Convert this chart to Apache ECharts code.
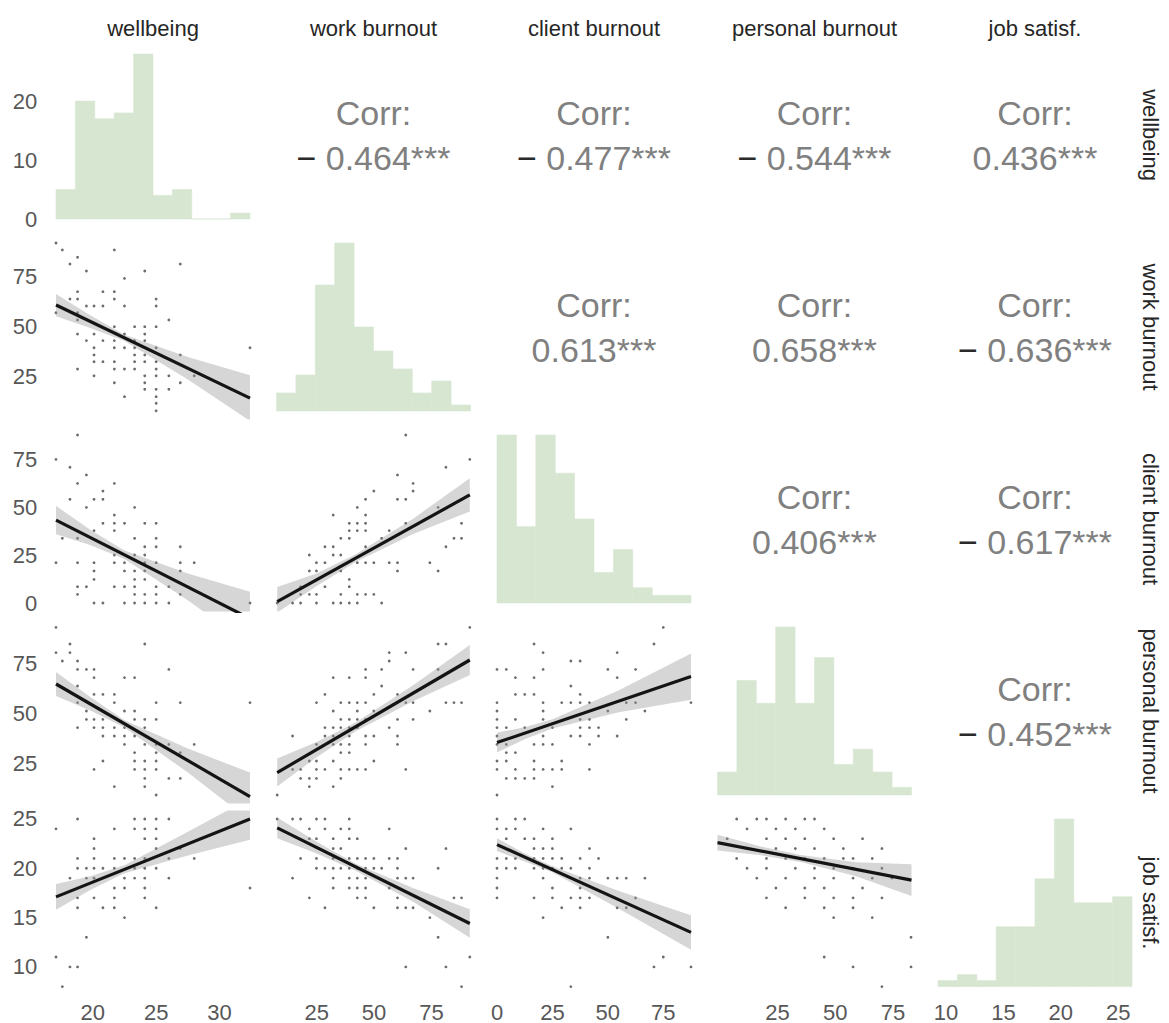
<!DOCTYPE html>
<html><head><meta charset="utf-8">
<script src="https://cdn.jsdelivr.net/npm/echarts@6/dist/echarts.min.js"></script>
<style>html,body{margin:0;padding:0;background:#fff}#c{width:1169px;height:1023px}</style>
</head><body><div id="c"></div>
<script>
// ---------- data ----------
const varNames = ['wellbeing', 'work burnout', 'client burnout', 'personal burnout', 'job satisf.'];
// x range of each column, y range of each row
const colLimits = [[17.1, 32.4], [7.5, 92], [0, 87.5], [-1, 83], [9.3, 26.2]];
const rowLimits = [[17.1, 32.4], [7.5, 92], [0, 87.5], [9, 93], [8, 25]];
const xTickLabels = [[20, 25, 30], [25, 50, 75], [0, 25, 50, 75], [25, 50, 75], [10, 15, 20, 25]];
const yTickLabels = [[0, 10, 20], [25, 50, 75], [0, 25, 50, 75], [25, 50, 75], [10, 15, 20, 25]];

const histWellbeing = [5, 20, 17, 18, 28, 4, 5, 0, 0, 1];
const histWork = [3, 6, 21, 28, 14, 10, 7, 3, 5, 1];
const histClient = [22, 10, 22, 17, 11, 4, 7, 2, 1, 1];
const histPersonal = [3, 15, 12, 22, 12, 18, 4, 6, 3, 1];
const histJob = [1, 2, 1, 10, 10, 18, 28, 14, 14, 15];
const histTop = [28.5, 28, 22, 22, 28];

// correlations (row var ~ col var), upper triangle in reading order
const corrValues = [-0.464, -0.477, -0.544, 0.436, 0.613, 0.658, -0.636, 0.406, -0.617, -0.452];

const scatterWellbeingWork = [[17.1,92],[17.6,88.5],[18.8,84.8],[21.7,88.5],[18.2,81.4],[26.9,81.4],[19.5,77.9],[24.1,77.9],[22.5,74.2],
[18.8,67.5],[20.8,67.5],[21.7,67.5],[18.2,63.8],[18.8,63.8],[21.7,63.8],[25.0,63.8],
[19.5,60.3],[20.1,60.3],[20.8,60.3],[22.5,60.3],[25.0,60.3],[17.1,56.9],[18.8,56.9],[18.8,53.3],[26.0,53.3],
[21.7,49.9],[23.3,49.9],[24.1,49.9],[25.0,49.9],[18.8,46.2],[20.1,46.2],[22.5,46.2],[24.1,46.2],
[19.5,42.9],[20.8,42.9],[21.7,42.9],[23.3,42.9],[24.1,42.9],[20.1,39.3],[21.7,39.3],[22.5,39.3],[23.3,39.3],[25.0,39.3],[32.4,39.3],
[20.1,35.7],[23.3,35.7],[24.1,35.7],[26.9,35.7],[20.1,32.3],[20.8,32.3],[21.7,32.3],[23.3,32.3],[24.1,32.3],[25.0,32.3],
[18.8,28.6],[21.7,28.6],[22.5,28.6],[23.3,28.6],[25.0,28.6],[20.1,25.2],[24.1,25.2],[25.0,25.2],[26.0,25.2],[28.0,25.2],
[21.7,21.7],[24.1,21.7],[26.9,21.7],[24.1,18.4],[25.0,18.4],[26.0,18.4],[22.5,14.7],[25.0,14.7],[25.0,11.4],[25.0,7.6]];
const scatterWellbeingClient = [[18.8,87.5],[17.1,74.8],[18.2,70.7],[19.5,66.7],[18.8,62.3],[21.7,62.3],[20.8,58.3],
[18.2,54.0],[20.1,54.0],[20.8,54.0],[19.5,49.8],[23.3,49.8],[21.7,45.8],[20.8,41.5],[21.7,41.5],[22.5,41.5],[24.1,41.5],[25.0,41.5],
[20.1,37.7],[21.7,37.7],[17.6,33.7],[18.8,33.7],[23.3,33.7],[25.0,33.7],[24.1,29.3],[25.0,29.3],[26.9,29.3],
[21.7,25.0],[23.3,25.0],[24.1,25.0],[17.1,21.0],[18.8,21.0],[20.1,21.0],[21.7,21.0],[22.5,21.0],[24.1,21.0],[25.0,21.0],[26.9,21.0],[28.0,21.0],
[20.1,16.7],[22.5,16.7],[23.3,16.7],[24.1,16.7],[26.9,16.7],[20.1,12.3],[23.3,12.3],[24.1,12.3],
[18.8,8.5],[19.5,8.5],[21.7,8.5],[22.5,8.5],[23.3,8.5],[25.0,8.5],[26.0,8.5],[18.8,4.5],[23.3,4.5],[24.1,4.5],[25.0,4.5],[26.9,4.5],
[20.1,0],[20.8,0],[22.5,0],[23.3,0],[24.1,0],[25.0,0],[26.0,0],[32.4,0]];
const scatterWellbeingPersonal = [[17.1,92.8],[18.2,84.5],[24.1,84.5],[17.1,80.2],[18.2,80.2],[17.6,76.0],[18.8,76.0],
[18.8,71.8],[19.5,71.8],[20.1,71.8],[26.0,71.8],[20.1,67.7],[22.5,67.7],[23.3,67.7],[18.8,63.5],[20.1,59.3],[20.8,59.3],[21.7,59.3],
[18.8,55.2],[21.7,55.2],[25.0,55.2],[26.9,55.2],[32.4,55.2],[19.5,51.0],[22.5,51.0],[23.3,51.0],
[19.5,46.8],[20.1,46.8],[20.8,46.8],[23.3,46.8],[24.1,46.8],[25.0,46.8],[18.8,42.7],[20.1,42.7],[20.8,42.7],[21.7,42.7],[22.5,42.7],[24.1,42.7],
[20.8,38.5],[21.7,38.5],[22.5,38.5],[23.3,38.5],[22.5,34.3],[24.1,34.3],[25.0,34.3],[26.0,34.3],[28.0,34.3],
[23.3,30.2],[25.0,30.2],[26.9,30.2],[20.8,26.0],[23.3,26.0],[24.1,26.0],[25.0,26.0],[20.1,21.8],[23.3,21.8],[24.1,21.8],[25.0,21.8],
[24.1,17.3],[26.0,17.3],[26.9,17.3],[21.7,13.2],[24.1,13.2],[25.0,9.0]];
const scatterWellbeingJob = [[18.8,25],[23.3,25],[24.1,25],[25.0,25],[26.0,25],[17.1,24],[21.7,24],[23.3,24],[24.1,24],[25.0,24],
[20.1,23],[24.1,23],[25.0,23],[20.1,22],[25.0,22],[26.9,22],
[18.8,21],[20.1,21],[21.7,21],[22.5,21],[23.3,21],[24.1,21],[26.0,21],[28.0,21],
[18.8,20],[19.5,20],[20.1,20],[20.8,20],[21.7,20],[23.3,20],[24.1,20],[25.0,20],
[18.2,19],[19.5,19],[20.1,19],[22.5,19],[23.3,19],[24.1,19],[26.0,19],[21.7,18],[22.5,18],[24.1,18],[32.4,18],
[18.8,17],[20.1,17],[21.7,17],[24.1,17],[18.8,16],[20.8,16],[21.7,16],[25.0,16],
[22.5,15],[19.5,13],[17.1,11],[18.2,10],[18.8,10],[17.6,8]];
const scatterWorkClient = [[63.8,87.5],[91.7,74.8],[81.3,70.7],[60.2,66.7],[67.0,62.3],[49.9,58.3],[67.0,58.3],
[46.3,54.0],[60.2,54.0],[63.8,54.0],[42.7,49.8],[77.9,49.8],[32.2,45.8],[46.3,45.8],
[39.2,41.5],[42.7,41.5],[46.3,41.5],[63.8,41.5],[88.1,41.5],[39.2,37.7],[42.7,37.7],[46.3,37.7],[56.6,37.7],
[35.5,33.7],[39.2,33.7],[53.3,33.7],[84.8,33.7],[88.1,33.7],[28.6,29.3],[32.2,29.3],[46.3,29.3],[81.3,29.3],
[21.8,25.0],[32.2,25.0],[35.5,25.0],[24.9,21.0],[28.6,21.0],[42.7,21.0],[46.3,21.0],[49.9,21.0],[56.6,21.0],[60.2,21.0],[74.3,21.0],
[21.8,16.7],[24.9,16.7],[35.5,16.7],[60.2,16.7],[77.9,16.7],[39.2,12.3],[18.0,8.5],[28.6,8.5],[39.2,8.5],
[18.0,4.5],[21.8,4.5],[24.9,4.5],[35.5,4.5],[42.7,4.5],[46.3,4.5],[49.9,4.5],
[7.8,0],[14.5,0],[18.0,0],[24.9,0],[32.2,0],[35.5,0],[39.2,0],[42.7,0],[53.3,0]];
const scatterWorkPersonal = [[91.7,92.8],[77.9,84.5],[81.3,84.5],[56.6,80.2],[63.8,80.2],[56.6,76.0],
[46.3,71.8],[53.3,71.8],[67.0,71.8],[77.9,71.8],[32.2,67.7],[39.2,67.7],[46.3,67.7],[53.3,63.5],[28.6,59.3],[49.9,59.3],[60.2,59.3],
[24.9,55.2],[35.5,55.2],[39.2,55.2],[42.7,55.2],[46.3,55.2],[63.8,55.2],[67.0,55.2],[81.3,55.2],[84.8,55.2],[88.1,55.2],
[32.2,51.0],[42.7,51.0],[49.9,51.0],[74.3,51.0],[35.5,46.8],[39.2,46.8],[42.7,46.8],[46.3,46.8],[60.2,46.8],[67.0,46.8],
[28.6,42.7],[32.2,42.7],[35.5,42.7],[39.2,42.7],[42.7,42.7],[56.6,42.7],
[14.5,38.5],[28.6,38.5],[32.2,38.5],[39.2,38.5],[46.3,38.5],[49.9,38.5],[60.2,38.5],
[24.9,34.3],[32.2,34.3],[35.5,34.3],[39.2,34.3],[46.3,34.3],[60.2,34.3],[35.5,30.2],[39.2,30.2],
[21.8,26.0],[24.9,26.0],[32.2,26.0],[49.9,26.0],
[14.5,21.8],[18.0,21.8],[24.9,21.8],[28.6,21.8],[35.5,21.8],[39.2,21.8],[42.7,21.8],[46.3,21.8],[63.8,21.8],
[18.0,17.3],[21.8,17.3],[24.9,17.3],[35.5,17.3],[21.8,13.2],[32.2,13.2],[7.8,9.0]];
const scatterWorkJob = [[7.8,25],[14.5,25],[18.0,25],[24.9,25],[28.6,25],[39.2,25],[21.8,24],[28.6,24],[35.5,24],[39.2,24],[56.6,24],
[21.8,23],[24.9,23],[32.2,23],[39.2,23],[42.7,23],[32.2,22],[35.5,22],[63.8,22],[81.3,22],
[18.0,21],[24.9,21],[32.2,21],[39.2,21],[42.7,21],[46.3,21],[49.9,21],[56.6,21],[60.2,21],
[24.9,20],[28.6,20],[32.2,20],[35.5,20],[39.2,20],[42.7,20],[46.3,20],[49.9,20],[53.3,20],[60.2,20],[77.9,20],
[14.5,19],[32.2,19],[39.2,19],[42.7,19],[46.3,19],[60.2,19],[63.8,19],[67.0,19],[32.2,18],[39.2,18],[42.7,18],[46.3,18],[56.6,18],
[21.8,17],[42.7,17],[46.3,17],[60.2,17],[84.8,17],[88.1,17],[28.6,16],[49.9,16],[60.2,16],[63.8,16],[67.0,16],
[74.3,15],[77.9,13],[91.7,11],[63.8,10],[81.3,10],[88.1,8]];
const scatterClientPersonal = [[75.0,92.8],[16.7,84.5],[70.8,84.5],[20.8,80.2],[54.2,80.2],[33.3,76.0],[37.5,76.0],
[0,71.8],[4.2,71.8],[20.8,71.8],[50.0,71.8],[62.5,71.8],[8.3,67.7],[16.7,67.7],[54.2,67.7],[33.3,63.5],
[8.3,59.3],[12.5,59.3],[16.7,59.3],[37.5,59.3],[0,55.2],[20.8,55.2],[29.2,55.2],[33.3,55.2],[37.5,55.2],[41.7,55.2],[58.3,55.2],[62.5,55.2],[87.5,55.2],
[0,51.0],[20.8,51.0],[50.0,51.0],[66.7,51.0],[0,46.8],[8.3,46.8],[20.8,46.8],[37.5,46.8],[41.7,46.8],[58.3,46.8],
[0,42.7],[4.2,42.7],[12.5,42.7],[25.0,42.7],[37.5,42.7],[41.7,42.7],[45.8,42.7],
[0,38.5],[20.8,38.5],[33.3,38.5],[37.5,38.5],[45.8,38.5],[54.2,38.5],[0,34.3],[4.2,34.3],[16.7,34.3],[20.8,34.3],[25.0,34.3],[41.7,34.3],
[4.2,30.2],[8.3,30.2],[0,26.0],[4.2,26.0],[16.7,26.0],[29.2,26.0],
[0,21.8],[8.3,21.8],[16.7,21.8],[20.8,21.8],[25.0,21.8],[29.2,21.8],[41.7,21.8],
[4.2,17.3],[8.3,17.3],[12.5,17.3],[16.7,17.3],[25.0,13.2],[0,9.0]];
const scatterClientJob = [[0,25],[8.3,25],[12.5,25],[0,24],[4.2,24],[8.3,24],[20.8,24],[33.3,24],
[4.2,23],[12.5,23],[16.7,23],[25.0,23],[16.7,22],[20.8,22],[25.0,22],[41.7,22],
[0,21],[4.2,21],[8.3,21],[16.7,21],[20.8,21],[25.0,21],[29.2,21],[37.5,21],[45.8,21],
[0,20],[4.2,20],[8.3,20],[16.7,20],[20.8,20],[25.0,20],[29.2,20],[33.3,20],[41.7,20],
[0,19],[20.8,19],[37.5,19],[41.7,19],[50.0,19],[54.2,19],[58.3,19],[66.7,19],[0,18],[25.0,18],[37.5,18],
[0,17],[16.7,17],[25.0,17],[33.3,17],[37.5,17],[41.7,17],[62.5,17],[29.2,16],[37.5,16],[54.2,16],[58.3,16],
[20.8,15],[50.0,13],[75.0,11],[70.8,10],[87.5,10],[33.3,8]];
const scatterPersonalJob = [[7.3,25],[16,25],[20.2,25],[28.5,25],[36.8,25],[41,25],[11.8,24],[24.3,24],[32.7,24],[45.2,24],
[3.2,23],[20.2,23],[28.5,23],[36.8,23],[49.3,23],[61.8,23],[11.8,22],[24.3,22],[32.7,22],[41,22],[53.5,22],[70.2,22],
[7.3,21],[20.2,21],[28.5,21],[36.8,21],[45.2,21],[53.5,21],[57.7,21],[66,21],
[11.8,20],[20.2,20],[32.7,20],[41,20],[49.3,20],[57.7,20],[70.2,20],
[16,19],[28.5,19],[41,19],[49.3,19],[57.7,19],[66,19],[74.5,19],[24.3,18],[36.8,18],[45.2,18],[61.8,18],
[20.2,17],[36.8,17],[49.3,17],[57.7,17],[70.2,17],[28.5,16],[45.2,16],[57.7,16],[49.3,15],[66,15],
[82.8,13],[45.2,11],[57.7,10],[82.8,10],[70.2,8]];

// fitted lines [x, y] and confidence bands [x, lower, upper]
const fitWellbeingWork = [[17.1,60.8],[32.4,14.0]];
const bandWellbeingWork = [[17.1,55.2,66.4],[19.8,49.3,55.7],[22.5,42.7,45.9],[27.5,23.4,34.6],[32.4,2.5,25.5]];
const fitWellbeingClient = [[17.1,43.2],[32.4,-8.1]];
const bandWellbeingClient = [[17.1,35.8,50.6],[19.8,30.2,38.2],[22.5,22.9,27.3],[27.5,1.4,15.4],[32.4,-22,5.9]];
const fitWellbeingPersonal = [[17.1,64.5],[32.4,8.2]];
const bandWellbeingPersonal = [[17.1,58.5,70.5],[19.8,51.2,58.0],[22.5,42.8,46.4],[27.5,20.2,32.2],[32.4,-3.8,20.2]];
const fitWellbeingJob = [[17.1,17.1],[32.4,25.0]];
const bandWellbeingJob = [[17.1,15.8,18.4],[19.8,17.8,19.2],[22.5,19.5,20.3],[27.5,21.3,23.7],[32.4,22.9,27.1]];
const fitWorkClient = [[7.8,0.7],[91.7,56.3]];
const bandWorkClient = [[7.8,-5,8.3],[25,8.8,15.4],[42,21.4,25.4],[67,35.9,43.9],[91.7,47.6,65]];
const fitWorkPersonal = [[7.8,20.2],[91.7,76.5]];
const bandWorkPersonal = [[7.8,13.2,27.2],[25,27.9,35.5],[42,40.9,45.3],[67,55.9,63.9],[91.7,69,84]];
const fitWorkJob = [[7.8,24.1],[91.7,14.4]];
const bandWorkJob = [[7.8,23.05,25.15],[25,21.5,22.7],[42,19.75,20.45],[67,16.6,18.0],[91.7,12.95,15.85]];
const fitClientPersonal = [[0,35.2],[87.5,68.2]];
const bandClientPersonal = [[0,30.2,40.2],[12.5,36.9,42.9],[25,42.3,46.9],[55,50.4,61.4],[87.5,56.6,79.8]];
const fitClientJob = [[0,22.4],[87.5,13.5]];
const bandClientJob = [[0,21.75,23.05],[12.5,20.7,21.5],[25,19.6,20.2],[55,15.9,17.7],[87.5,11.75,15.25]];
const fitPersonalJob = [[-1,22.6],[83,18.8]];
const bandPersonalJob = [[-1,21.8,23.4],[17,21.35,22.25],[35,20.65,21.35],[59,19.2,20.6],[83,17.2,20.4]];

// ---------- layout ----------
const FONT = '"Liberation Sans", Arial, sans-serif';
const colC = c => 153 + 220.5 * c;
const rowC = r => 135 + 192 * r;
const HW = 106.7, HH = 92.4;
const expand = lim => { const d = lim[1] - lim[0]; return [lim[0] - 0.05 * d, lim[1] + 0.05 * d]; };

const histAll = [histWellbeing, histWork, histClient, histPersonal, histJob];
const lowerPanels = [
  [1,0,scatterWellbeingWork,fitWellbeingWork,bandWellbeingWork],
  [2,0,scatterWellbeingClient,fitWellbeingClient,bandWellbeingClient],
  [3,0,scatterWellbeingPersonal,fitWellbeingPersonal,bandWellbeingPersonal],
  [4,0,scatterWellbeingJob,fitWellbeingJob,bandWellbeingJob],
  [2,1,scatterWorkClient,fitWorkClient,bandWorkClient],
  [3,1,scatterWorkPersonal,fitWorkPersonal,bandWorkPersonal],
  [4,1,scatterWorkJob,fitWorkJob,bandWorkJob],
  [3,2,scatterClientPersonal,fitClientPersonal,bandClientPersonal],
  [4,2,scatterClientJob,fitClientJob,bandClientJob],
  [4,3,scatterPersonalJob,fitPersonalJob,bandPersonalJob]
];

const grids = [], xAxes = [], yAxes = [], series = [];
const labelStyle = { fontSize: 22, color: '#575757', fontFamily: FONT };

function addGrid(r, c, xLim, yLim, yTicks) {
  const idx = grids.length;
  grids.push({ left: colC(c) - HW, top: rowC(r) - HH, width: 2 * HW, height: 2 * HH });
  const xe = expand(xLim), ye = expand(yLim);
  xAxes.push({ gridIndex: idx, type: 'value', min: xe[0], max: xe[1],
    axisLine: { show: false }, axisTick: { show: false }, splitLine: { show: false },
    axisLabel: r === 4 ? Object.assign({ show: true, customValues: xTickLabels[c], margin: 6 }, labelStyle) : { show: false } });
  yAxes.push({ gridIndex: idx, type: 'value', min: ye[0], max: ye[1],
    axisLine: { show: false }, axisTick: { show: false }, splitLine: { show: false },
    axisLabel: c === 0 ? Object.assign({ show: true, customValues: yTicks, margin: 9 }, labelStyle) : { show: false } });
  return idx;
}

// diagonal histograms
for (let v = 0; v < 5; v++) {
  const idx = addGrid(v, v, colLimits[v], [0, histTop[v]], yTickLabels[0]);
  const lo = colLimits[v][0], hi = colLimits[v][1], n = histAll[v].length, w = (hi - lo) / n;
  series.push({
    type: 'custom', xAxisIndex: idx, yAxisIndex: idx, silent: true,
    data: histAll[v].map((cnt, i) => [lo + i * w, lo + (i + 1) * w, cnt]),
    encode: { x: [0, 1], y: 2 },
    renderItem: (params, api) => {
      const p0 = api.coord([api.value(0), api.value(2)]);
      const p1 = api.coord([api.value(1), 0]);
      return { type: 'rect', shape: { x: p0[0], y: p0[1], width: p1[0] - p0[0], height: p1[1] - p0[1] },
        style: { fill: '#d6e6d1', stroke: '#d6e6d1', lineWidth: 0.6 } };
    }
  });
}

// lower panels
lowerPanels.forEach(([r, c, pts, fit, band]) => {
  const idx = addGrid(r, c, colLimits[c], rowLimits[r], yTickLabels[r]);
  series.push({ type: 'scatter', xAxisIndex: idx, yAxisIndex: idx, data: pts, symbolSize: 2.8, silent: true,
    itemStyle: { color: 'rgba(0,0,0,0.72)' }, z: 2 });
  series.push({ type: 'custom', xAxisIndex: idx, yAxisIndex: idx, clip: true, silent: true, z: 3,
    data: [[band[0][0], band[0][1]]],
    renderItem: (params, api) => {
      const up = band.map(b => api.coord([b[0], b[2]]));
      const dn = band.slice().reverse().map(b => api.coord([b[0], b[1]]));
      return { type: 'polygon', shape: { points: up.concat(dn) }, style: { fill: 'rgba(153,153,153,0.4)' } };
    } });
  series.push({ type: 'line', xAxisIndex: idx, yAxisIndex: idx, data: fit, symbol: 'none', silent: true, z: 4,
    lineStyle: { color: '#141414', width: 3.2 } });
});

// texts
const graphic = [];
varNames.forEach((name, i) => {
  graphic.push({ type: 'text', x: colC(i), y: 28, silent: true,
    style: { text: name, font: '22px ' + FONT, fill: '#262626', align: 'center', verticalAlign: 'middle' } });
  graphic.push({ type: 'text', x: 1150, y: rowC(i), rotation: -Math.PI / 2, silent: true,
    style: { text: name, font: '22px ' + FONT, fill: '#262626', align: 'center', verticalAlign: 'middle' } });
});
let k = 0;
for (let r = 0; r < 5; r++) {
  for (let c = r + 1; c < 5; c++) {
    const val = corrValues[k++];
    const body = Math.abs(val).toFixed(3) + '***';
    graphic.push({ type: 'text', x: colC(c), y: rowC(r) - 22, silent: true,
      style: { text: 'Corr:', font: '34px ' + FONT, fill: '#808080', align: 'center', verticalAlign: 'middle' } });
    graphic.push({ type: 'text', x: colC(c), y: rowC(r) + 23, silent: true,
      style: { text: val < 0 ? '{m|\u2212} {v|' + body + '}' : '{v|' + body + '}',
        font: '34px ' + FONT, fill: '#808080', align: 'center', verticalAlign: 'middle',
        rich: { m: { fill: '#2a2a2a', fontSize: 34, fontFamily: FONT }, v: { fill: '#808080', fontSize: 34, fontFamily: FONT } } } });
  }
}

const chart = echarts.init(document.getElementById('c'), null, { renderer: 'svg', width: 1169, height: 1023 });
chart.setOption({
  animation: false,
  backgroundColor: '#ffffff',
  grid: grids, xAxis: xAxes, yAxis: yAxes, series: series, graphic: graphic
});
</script>
</body></html>
